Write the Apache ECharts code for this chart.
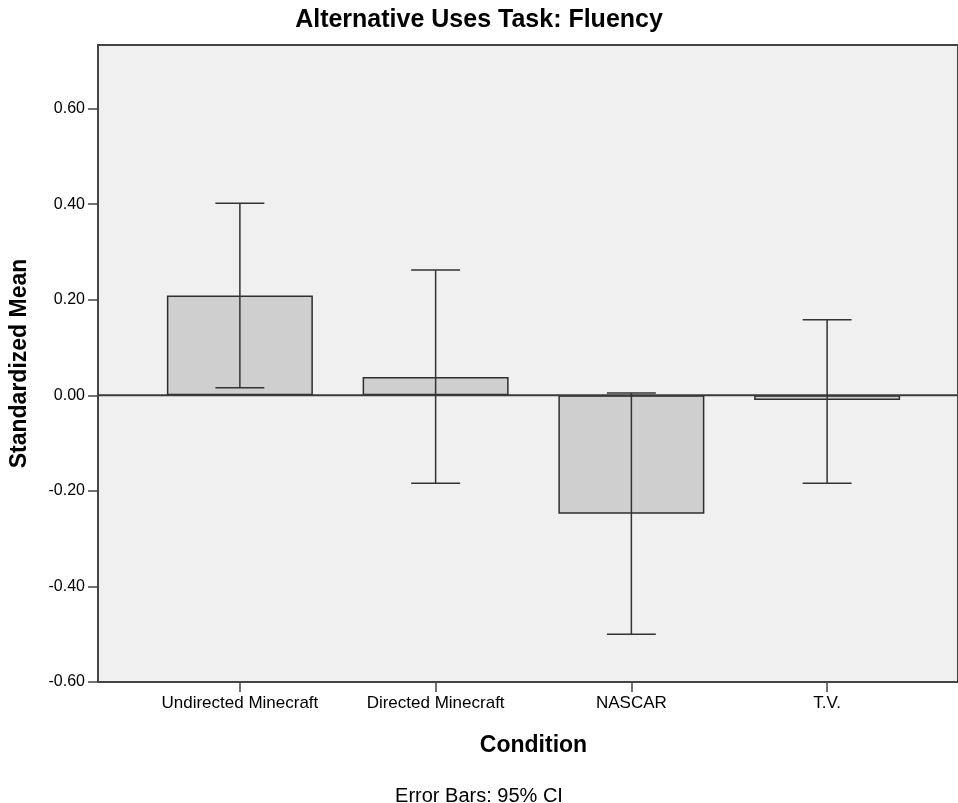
<!DOCTYPE html>
<html>
<head>
<meta charset="utf-8">
<script src="https://cdn.jsdelivr.net/npm/echarts@6/dist/echarts.min.js"></script>
<style>
  html, body { margin: 0; padding: 0; background: #fff; }
  #chart { width: 958px; height: 803px; }
</style>
</head>
<body>
<div id="chart"></div>
<script>
// values
const categories = ['Undirected Minecraft', 'Directed Minecraft', 'NASCAR', 'T.V.'];
const means = [0.209, 0.038, -0.248, -0.010];
const ciLow = [0.016, -0.184, -0.500, -0.184];
const ciHigh = [0.402, 0.262, 0.005, 0.158];
const yTicks = [-0.6, -0.4, -0.2, 0, 0.2, 0.4, 0.6];

const yMin = -0.6;
const yMax = 0.733;
const font = "'Liberation Sans', Arial, sans-serif";

var chartDom = document.getElementById('chart');
var myChart = echarts.init(chartDom);

var option = {
  animation: false,
  textStyle: { fontFamily: font },
  title: [
    {
      text: 'Alternative Uses Task: Fluency',
      left: 'center',
      top: 3,
      textStyle: { fontFamily: font, fontSize: 25, fontWeight: 'bold', color: '#000' }
    },
    {
      text: 'Error Bars: 95% CI',
      left: 'center',
      top: 781,
      textStyle: { fontFamily: font, fontSize: 20, fontWeight: 'normal', color: '#000' }
    }
  ],
  grid: [
    // full plot background with frame
    { left: 98, right: -10, top: 45, bottom: 121, show: true,
      backgroundColor: '#f0f0f0', borderColor: '#444', borderWidth: 2 },
    // data area, narrower so the categories sit like in SPSS
    { left: 142, right: 33, top: 45, bottom: 121 }
  ],
  xAxis: [
    { gridIndex: 0, type: 'value', min: 0, max: 1, show: false },
    {
      gridIndex: 1,
      type: 'category',
      data: categories,
      name: 'Condition',
      nameLocation: 'middle',
      nameGap: 52,
      nameTextStyle: { fontFamily: font, fontSize: 23, fontWeight: 'bold', color: '#000' },
      axisLine: { show: false, onZero: false },
      axisTick: { show: true, interval: 0, alignWithLabel: true, length: 10, lineStyle: { color: '#444', width: 1.5 } },
      axisLabel: { interval: 0, hideOverlap: false, margin: 13, fontSize: 17, color: '#000', fontFamily: font },
      splitLine: { show: false }
    }
  ],
  yAxis: [
    {
      gridIndex: 0,
      type: 'value',
      min: yMin,
      max: yMax,
      name: 'Standardized Mean',
      nameLocation: 'middle',
      nameGap: 67,
      nameTextStyle: { fontFamily: font, fontSize: 23, fontWeight: 'bold', color: '#000' },
      axisLine: { show: false },
      axisTick: { show: true, length: 10, customValues: yTicks, lineStyle: { color: '#444', width: 1.5 } },
      axisLabel: {
        margin: 13, fontSize: 16, color: '#000', fontFamily: font,
        customValues: yTicks,
        formatter: function (v) { return v.toFixed(2); }
      },
      splitLine: { show: false }
    },
    { gridIndex: 1, type: 'value', min: yMin, max: yMax, show: false, splitLine: { show: false } }
  ],
  series: [
    {
      // zero reference line across the whole plot
      type: 'custom',
      xAxisIndex: 0,
      yAxisIndex: 0,
      z: 4,
      silent: true,
      data: [[0, 0]],
      renderItem: function (params, api) {
        var y = api.coord([0, api.value(1)])[1];
        var cs = params.coordSys;
        return {
          type: 'line',
          shape: { x1: cs.x, y1: y, x2: cs.x + cs.width + 20, y2: y },
          style: { stroke: '#3a3a3a', lineWidth: 2 }
        };
      }
    },
    {
      type: 'bar',
      xAxisIndex: 1,
      yAxisIndex: 1,
      data: means,
      barWidth: 146,
      z: 3,
      itemStyle: { color: '#cfcfcf', borderColor: '#2e2e2e', borderWidth: 1.5 }
    },
    {
      type: 'custom',
      xAxisIndex: 1,
      yAxisIndex: 1,
      z: 5,
      data: categories.map(function (c, i) { return [i, ciLow[i], ciHigh[i]]; }),
      renderItem: function (params, api) {
        var lo = api.coord([api.value(0), api.value(1)]);
        var hi = api.coord([api.value(0), api.value(2)]);
        var half = api.size([1, 0])[0] * 0.125;
        var st = { stroke: '#333', lineWidth: 1.5 };
        return {
          type: 'group',
          children: [
            { type: 'line', shape: { x1: lo[0], y1: lo[1], x2: hi[0], y2: hi[1] }, style: st },
            { type: 'line', shape: { x1: hi[0] - half, y1: hi[1], x2: hi[0] + half, y2: hi[1] }, style: st },
            { type: 'line', shape: { x1: lo[0] - half, y1: lo[1], x2: lo[0] + half, y2: lo[1] }, style: st }
          ]
        };
      }
    }
  ]
};

myChart.setOption(option);
</script>
</body>
</html>
